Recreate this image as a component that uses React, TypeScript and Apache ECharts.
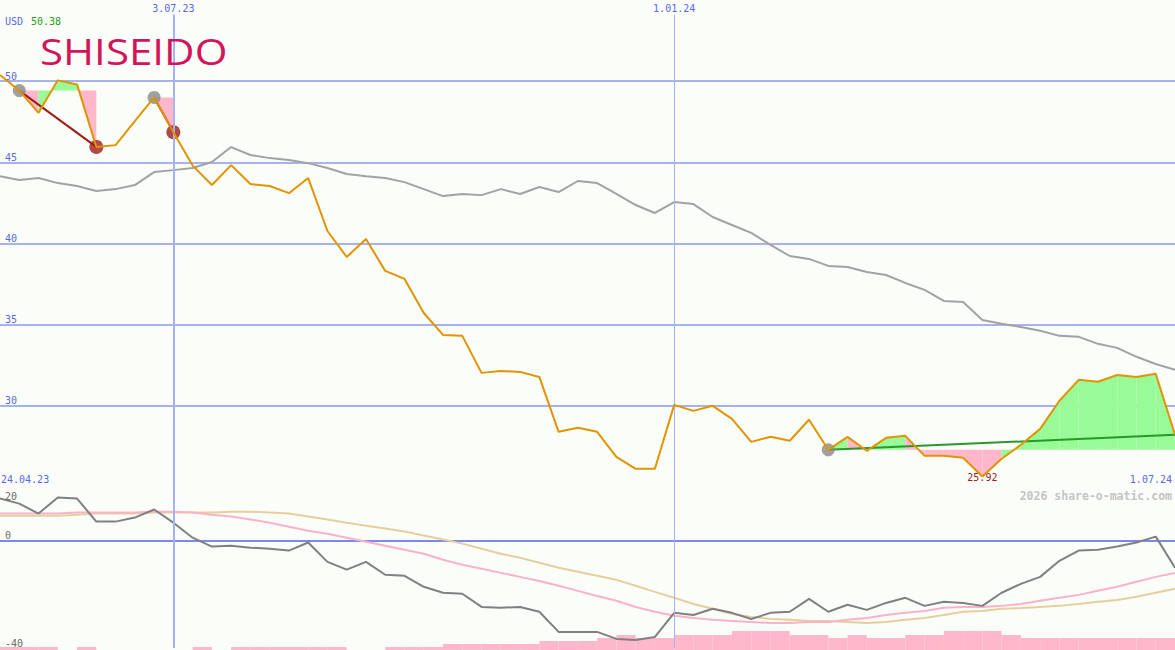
import React, { useEffect, useRef } from "react";
import * as echarts from "echarts";

// ---------- data ----------
const firstWeek = "2023-05-01";
const weekCount = 62;
const dates: string[] = (() => {
  const out: string[] = [];
  const start = Date.parse(firstWeek + "T00:00:00Z");
  for (let i = 0; i < weekCount; i++) out.push(new Date(start + i * 7 * 86400000).toISOString().slice(0, 10));
  return out;
})();

const topDateLabels = ["2023-07-03", "2024-01-01"];
const rangeLabels = ["24.04.23", "1.07.24"];
const currency = "USD";
const headlinePrice = "50.38";
const lowPrice = 25.92;
const copyright = "2026 share-o-matic.com";
const companyName = "SHISEIDO";

const price = [
  50.38, 49.42, 48.05, 50.05, 49.8, 45.95, 46.06, 47.54, 49.0, 46.86,
  44.8, 43.6, 44.83, 43.66, 43.54, 43.1, 44.03, 40.77, 39.17, 40.28,
  38.31, 37.82, 35.72, 34.37, 34.31, 32.03, 32.15, 32.09, 31.78, 28.4,
  28.65, 28.4, 26.86, 26.12, 26.12, 30.06, 29.69, 30.0, 29.2, 27.78,
  28.09, 27.85, 29.14, 27.29, 28.09, 27.23, 28.03, 28.15, 26.92, 26.92,
  26.8, 25.65, 26.74, 27.6, 28.58, 30.31, 31.6, 31.48, 31.9, 31.78,
  31.97, 28.22,
];

const movingAvg = [
  44.15, 43.91, 44.03, 43.72, 43.54, 43.23, 43.35, 43.6, 44.4, 44.52,
  44.65, 45.02, 45.94, 45.45, 45.26, 45.14, 44.95, 44.65, 44.28, 44.15,
  44.03, 43.78, 43.35, 42.92, 43.05, 42.98, 43.35, 43.05, 43.48, 43.17,
  43.85, 43.72, 43.05, 42.37, 41.88, 42.55, 42.43, 41.63, 41.14, 40.65,
  39.91, 39.23, 39.05, 38.62, 38.55, 38.25, 38.06, 37.57, 37.14, 36.46,
  36.4, 35.29, 35.05, 34.86, 34.62, 34.31, 34.25, 33.82, 33.57, 33.02,
  32.58, 32.22,
];

const oscillator = [
  15.7, 13.8, 10.1, 16.1, 15.7, 7.1, 7.1, 8.6, 11.6, 6.7,
  1.1, -2.2, -1.9, -2.6, -3.0, -3.7, -0.7, -7.9, -10.8, -7.9,
  -12.7, -13.1, -17.2, -19.4, -19.8, -24.7, -25.0, -24.7, -26.5, -34.0,
  -34.0, -34.0, -36.6, -37.0, -35.9, -26.9, -27.7, -25.4, -26.9, -29.2,
  -26.9, -26.5, -21.7, -26.5, -23.9, -25.8, -23.2, -21.3, -24.3, -22.8,
  -23.2, -24.3, -19.4, -16.1, -13.5, -7.5, -3.7, -3.4, -2.2, -0.7,
  1.5, -10.1,
];

const signalFast = [
  10.1, 10.1, 10.1, 10.1, 10.5, 10.5, 10.5, 10.5, 10.8, 10.8,
  10.5, 9.7, 9.0, 7.9, 6.7, 5.2, 3.7, 2.6, 1.1, -0.4,
  -1.9, -3.4, -4.9, -7.1, -9.0, -10.5, -12.0, -13.5, -15.0, -16.8,
  -18.7, -20.6, -22.4, -24.7, -26.5, -28.0, -28.8, -29.5, -29.9, -30.3,
  -30.7, -30.7, -30.3, -30.3, -29.5, -28.8, -27.7, -26.9, -26.2, -25.0,
  -24.7, -24.7, -24.3, -23.6, -22.4, -21.3, -20.2, -18.7, -17.2, -15.3,
  -13.5, -12.0,
];

const signalSlow = [
  9.3, 9.3, 9.3, 9.3, 9.7, 10.1, 10.1, 10.1, 10.5, 10.5,
  10.5, 10.5, 10.8, 10.8, 10.5, 10.1, 9.0, 7.9, 6.7, 5.6,
  4.5, 3.4, 1.9, 0.4, -1.1, -3.0, -4.9, -6.4, -8.2, -10.1,
  -11.6, -13.1, -14.6, -16.8, -19.1, -21.3, -23.6, -25.4, -27.3, -28.4,
  -29.2, -29.5, -29.9, -29.9, -30.3, -30.7, -30.3, -29.5, -28.8, -27.7,
  -26.5, -26.2, -25.4, -25.1, -24.7, -24.3, -23.6, -22.8, -22.1, -20.9,
  -19.4, -17.9,
];

const volume = [
  3, 3, 3, 0, 3, 0, 0, 0, 0, 0,
  3, 0, 3, 3, 3, 3, 3, 3, 0, 0,
  3, 3, 3, 6, 6, 6, 6, 6, 9, 9,
  9, 12, 15, 12, 12, 15, 15, 15, 19, 19,
  19, 15, 15, 12, 15, 12, 12, 15, 15, 19,
  19, 19, 15, 12, 12, 12, 12, 12, 12, 12,
  12, 12,
];

const trendStart = [1, 8, 43];
const trendEnd = [5, 9, 61];
const trendRising = [false, false, true];
const trendClosed = [true, true, false];

// ---------- styles ----------
const BG = "#fbfdf8";
const BLUE = "#5a68ee";
const GRIDC = "#a6b2f2";
const MONO = "DejaVu Sans Mono";
const PINK = "#ffb7c9";
const GREEN = "#98fb98";

function fmtDate(s: string) {
  const [y, m, d] = s.split("-");
  return `${+d}.${m}.${y.slice(2)}`;
}

const lowIdx = price.indexOf(Math.min(...price));

function buildOption(): any {
  const fillData: number[][] = [];
  trendStart.forEach((s, t) => {
    for (let i = s; i < trendEnd[t]; i++) fillData.push([i, price[s], price[i], price[i + 1]]);
  });

  const trendSeries = trendStart.map((s, t) => ({
    type: "line",
    xAxisIndex: 0,
    yAxisIndex: 0,
    data: [
      [dates[s], price[s]],
      [dates[trendEnd[t]], price[trendEnd[t]]],
    ],
    symbol: "none",
    lineStyle: { color: trendRising[t] ? "#26992a" : "#a01a1a", width: 2 },
    z: 4,
    silent: true,
  }));

  const vline = (gridTopValue: number | null) =>
    gridTopValue === null
      ? {
          silent: true,
          symbol: ["none", "none"],
          label: { show: false },
          lineStyle: { color: GRIDC, type: "solid", width: 1 },
          data: [
            { xAxis: topDateLabels[0], lineStyle: { width: 2, color: GRIDC, type: "solid" } },
            { xAxis: topDateLabels[1], lineStyle: { width: 1, color: GRIDC, type: "solid" } },
          ],
        }
      : {
          silent: true,
          symbol: ["none", "none"],
          label: { show: false },
          lineStyle: { color: GRIDC, type: "solid", width: 1 },
          data: [
            [
              { coord: [topDateLabels[0], gridTopValue], lineStyle: { width: 2, color: GRIDC, type: "solid" } },
              { coord: [topDateLabels[0], 25] },
            ],
            [
              { coord: [topDateLabels[1], gridTopValue], lineStyle: { width: 1, color: GRIDC, type: "solid" } },
              { coord: [topDateLabels[1], 25] },
            ],
          ],
        };

  return {
    animation: false,
    backgroundColor: BG,
    tooltip: { show: false },
    grid: [
      { left: 0, right: 0, top: 0, height: 487 },
      { left: 0, right: 0, top: 487, height: 161 },
      { left: 0, right: 0, top: 620, height: 30 },
    ],
    xAxis: [
      {
        type: "category",
        gridIndex: 0,
        data: dates,
        boundaryGap: false,
        position: "top",
        axisLine: { show: false },
        axisTick: { show: false },
        splitLine: { show: false },
        axisLabel: {
          inside: true,
          margin: 3,
          interval: (_i: number, v: string) => topDateLabels.includes(v),
          formatter: (v: string) => fmtDate(v),
          color: BLUE,
          fontFamily: MONO,
          fontSize: 10,
          verticalAlign: "top",
        },
      },
      {
        type: "category",
        gridIndex: 1,
        data: dates,
        boundaryGap: false,
        position: "top",
        axisLine: { show: true, lineStyle: { color: "#7b88ee", width: 2 } },
        axisTick: { show: false },
        axisLabel: { show: false },
        splitLine: { show: false },
      },
      { type: "category", gridIndex: 2, data: dates, boundaryGap: false, show: false },
    ],
    yAxis: [
      {
        type: "value",
        gridIndex: 0,
        min: 25,
        max: 55,
        interval: 5,
        axisLine: { show: false },
        axisTick: { show: false },
        splitLine: { show: true, showMinLine: false, showMaxLine: false, lineStyle: { color: GRIDC, width: 2 } },
        axisLabel: {
          inside: true,
          margin: 5,
          showMinLabel: false,
          showMaxLabel: false,
          verticalAlign: "bottom",
          color: BLUE,
          fontFamily: MONO,
          fontSize: 10,
        },
      },
      {
        type: "value",
        gridIndex: 1,
        min: -40,
        max: 20,
        interval: 40,
        axisLine: { show: false },
        axisTick: { show: false },
        splitLine: { show: true, showMinLine: false, showMaxLine: false, lineStyle: { color: GRIDC, width: 2 } },
        axisLabel: {
          inside: true,
          margin: 5,
          showMinLabel: true,
          showMaxLabel: false,
          verticalAlign: "bottom",
          color: "#6a6a6a",
          fontFamily: MONO,
          fontSize: 10,
        },
      },
      { type: "value", gridIndex: 2, min: 0, max: 30, show: false, splitLine: { show: false } },
    ],
    graphic: [
      {
        type: "text",
        x: 40,
        y: 51,
        scaleX: 1.17,
        z: 10,
        style: {
          text: companyName,
          fill: "#d4145a",
          fontFamily: "Open Sans",
          fontWeight: 400,
          fontSize: 36,
          verticalAlign: "middle",
        },
      },
      {
        type: "text",
        x: 5,
        y: 21,
        z: 10,
        style: { text: currency, fill: BLUE, fontFamily: MONO, fontSize: 10, verticalAlign: "middle" },
      },
      {
        type: "text",
        x: 31,
        y: 21,
        z: 10,
        style: { text: headlinePrice, fill: "#22a022", fontFamily: MONO, fontSize: 10, verticalAlign: "middle" },
      },
      {
        type: "text",
        x: 1,
        y: 479,
        z: 10,
        style: { text: rangeLabels[0], fill: BLUE, fontFamily: MONO, fontSize: 10, verticalAlign: "middle" },
      },
      {
        type: "text",
        x: 1172,
        y: 479,
        z: 10,
        style: { text: rangeLabels[1], fill: BLUE, fontFamily: MONO, fontSize: 10, verticalAlign: "middle", align: "right" },
      },
      {
        type: "text",
        x: 1172,
        y: 496,
        z: 10,
        style: {
          text: copyright,
          fill: "#c4c4c4",
          fontFamily: MONO,
          fontWeight: "bold",
          fontSize: 11.5,
          verticalAlign: "middle",
          align: "right",
        },
      },
      {
        type: "text",
        x: 5,
        y: 496,
        z: 10,
        style: { text: "20", fill: "#6a6a6a", fontFamily: MONO, fontSize: 10, verticalAlign: "middle" },
      },
    ],
    series: [
      {
        type: "line",
        name: "avg",
        xAxisIndex: 0,
        yAxisIndex: 0,
        data: movingAvg,
        symbol: "none",
        lineStyle: { color: "#a2a2a2", width: 2 },
        z: 2,
        silent: true,
        markLine: vline(54.1),
      },
      {
        type: "custom",
        name: "fills",
        xAxisIndex: 0,
        yAxisIndex: 0,
        data: fillData,
        encode: { x: 0, y: 1 },
        z: 3,
        silent: true,
        renderItem: (_p: any, api: any) => {
          const i = api.value(0);
          const lev = api.value(1);
          const a = api.value(2);
          const b = api.value(3);
          const pts = [api.coord([i, lev]), api.coord([i, a]), api.coord([i + 1, b]), api.coord([i + 1, lev])];
          return { type: "polygon", shape: { points: pts }, style: { fill: b < lev ? PINK : GREEN } };
        },
      },
      {
        type: "scatter",
        xAxisIndex: 0,
        yAxisIndex: 0,
        data: trendStart.map((s) => [dates[s], price[s]]),
        symbol: "circle",
        symbolSize: 13,
        itemStyle: { color: "#888888" },
        z: 4,
        silent: true,
      },
      {
        type: "scatter",
        xAxisIndex: 0,
        yAxisIndex: 0,
        data: trendEnd.filter((_e, t) => trendClosed[t]).map((e) => [dates[e], price[e]]),
        symbol: "circle",
        symbolSize: 14,
        itemStyle: { color: "#a01c1c" },
        z: 4,
        silent: true,
      },
      ...trendSeries,
      {
        type: "line",
        name: "price",
        xAxisIndex: 0,
        yAxisIndex: 0,
        data: price,
        symbol: "none",
        lineStyle: { color: "#df9400", width: 2 },
        z: 5,
        silent: true,
        markPoint: {
          symbol: "circle",
          symbolSize: 1,
          itemStyle: { color: "rgba(0,0,0,0)" },
          label: {
            show: true,
            position: "inside",
            formatter: () => lowPrice.toFixed(2),
            color: "#a01c1c",
            fontFamily: MONO,
            fontSize: 10,
            offset: [0, 1],
          },
          data: [{ coord: [dates[lowIdx], price[lowIdx]] }],
        },
      },
      {
        type: "custom",
        name: "volume",
        xAxisIndex: 2,
        yAxisIndex: 2,
        data: volume.map((v, i) => [i, v]),
        encode: { x: 0, y: 1 },
        z: 1,
        silent: true,
        renderItem: (_p: any, api: any) => {
          const i = api.value(0);
          const v = api.value(1);
          if (!v) return null;
          const tl = api.coord([i, v]);
          const br = api.coord([i + 1, 0]);
          return {
            type: "rect",
            shape: { x: tl[0], y: tl[1], width: br[0] - tl[0], height: br[1] - tl[1] },
            style: { fill: PINK },
          };
        },
      },
      {
        type: "line",
        xAxisIndex: 1,
        yAxisIndex: 1,
        data: signalSlow,
        symbol: "none",
        lineStyle: { color: "#e6cf9e", width: 2 },
        z: 3,
        silent: true,
        markLine: vline(null),
      },
      {
        type: "line",
        xAxisIndex: 1,
        yAxisIndex: 1,
        data: signalFast,
        symbol: "none",
        lineStyle: { color: "#fab2c8", width: 2 },
        z: 3,
        silent: true,
      },
      {
        type: "line",
        xAxisIndex: 1,
        yAxisIndex: 1,
        data: oscillator,
        symbol: "none",
        lineStyle: { color: "#808080", width: 2 },
        z: 4,
        silent: true,
      },
    ],
  };
}

export default function App() {
  const ref = useRef<HTMLDivElement>(null);
  useEffect(() => {
    document.body.style.margin = "0";
    document.body.style.background = BG;
    if (!ref.current) return;
    const chart = echarts.init(ref.current, null, { renderer: "svg" });
    chart.setOption(buildOption());
    return () => chart.dispose();
  }, []);
  return (
    <div style={{ position: "fixed", left: 0, top: 0, width: 1175, height: 650, background: BG }}>
      <div ref={ref} style={{ width: 1175, height: 650 }} />
    </div>
  );
}
